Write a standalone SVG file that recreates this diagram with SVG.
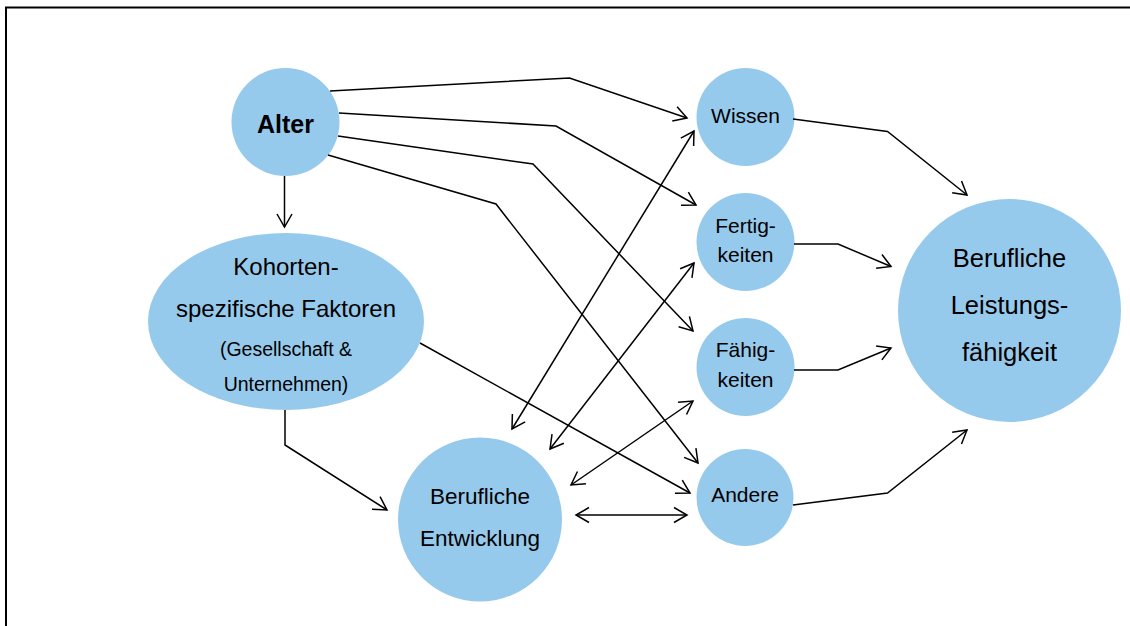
<svg xmlns="http://www.w3.org/2000/svg" width="1130" height="626" viewBox="0 0 1130 626">
<defs>
<marker id="arr" markerUnits="userSpaceOnUse" markerWidth="16" markerHeight="18" viewBox="0 0 16 18" refX="14" refY="9" orient="auto-start-reverse">
<path d="M1,1.5 L14,9 L1,16.5" fill="none" stroke="#000" stroke-width="1.5"/>
</marker>
<style>
.n{fill:#96CAED}
.t{font-family:"Liberation Sans",Arial,sans-serif;fill:#000;text-anchor:middle}
.c path{fill:none;stroke:#000;stroke-width:1.5;marker-end:url(#arr)}
.c path.d{marker-start:url(#arr)}
</style>
</defs>
<rect x="0" y="0" width="1130" height="626" fill="#fff"/>
<rect x="6" y="7.5" width="1200" height="700" fill="none" stroke="#000" stroke-width="2"/>

<g id="alter"><circle class="n" cx="285.5" cy="122" r="54"/><text class="t" x="285.5" y="133" font-size="25" font-weight="bold">Alter</text></g>
<g id="kohorten"><ellipse class="n" cx="286" cy="321.5" rx="138" ry="88.5"/>
<text class="t" x="286" y="275" font-size="24">Kohorten-</text>
<text class="t" x="286" y="317" font-size="24">spezifische Faktoren</text>
<text class="t" x="286" y="356" font-size="19.5">(Gesellschaft &amp;</text>
<text class="t" x="286" y="391" font-size="19.5">Unternehmen)</text></g>
<g id="entwicklung"><circle class="n" cx="480" cy="519.5" r="82"/>
<text class="t" x="480" y="504" font-size="22.5">Berufliche</text>
<text class="t" x="480" y="546" font-size="22.5">Entwicklung</text></g>
<g id="wissen"><circle class="n" cx="745.5" cy="117" r="49"/><text class="t" x="745.5" y="123" font-size="21">Wissen</text></g>
<g id="fertigkeiten"><circle class="n" cx="745.5" cy="242" r="49"/>
<text class="t" x="745.5" y="233" font-size="21">Fertig-</text><text class="t" x="745.5" y="262" font-size="21">keiten</text></g>
<g id="faehigkeiten"><circle class="n" cx="745.5" cy="367" r="49"/>
<text class="t" x="745.5" y="357" font-size="21">Fähig-</text><text class="t" x="745.5" y="387" font-size="21">keiten</text></g>
<g id="andere"><circle class="n" cx="745" cy="497.5" r="48.5"/><text class="t" x="745" y="502" font-size="21">Andere</text></g>
<g id="leistung"><circle class="n" cx="1009.5" cy="310.5" r="111.5"/>
<text class="t" x="1009.5" y="267" font-size="25.5">Berufliche</text>
<text class="t" x="1009.5" y="314" font-size="25.5">Leistungs-</text>
<text class="t" x="1009.5" y="361" font-size="25.5">fähigkeit</text></g>

<g id="connectors" class="c">
<path d="M284.5,176 L284.5,227"/>
<path d="M330,91 L569.5,78 L687,118"/>
<path d="M339,113 L556,126 L696,205"/>
<path d="M338,136 L533,164 L693,331"/>
<path d="M328,155 L496,204 L698,463"/>
<path d="M420,343 L690,493"/>
<path d="M285,410 L285,445 L387,510"/>
<path class="d" d="M512,429 L694,131"/>
<path class="d" d="M550,449 L694,263"/>
<path class="d" d="M571,485 L693,401"/>
<path class="d" d="M576,515 L687,515"/>
<path d="M793,119 L887.5,131.5 L967,195"/>
<path d="M794,244 L838,244 L891,266.5"/>
<path d="M794,370 L838,370 L891,348"/>
<path d="M793,505 L887.5,493 L967,430"/>
</g>
</svg>
